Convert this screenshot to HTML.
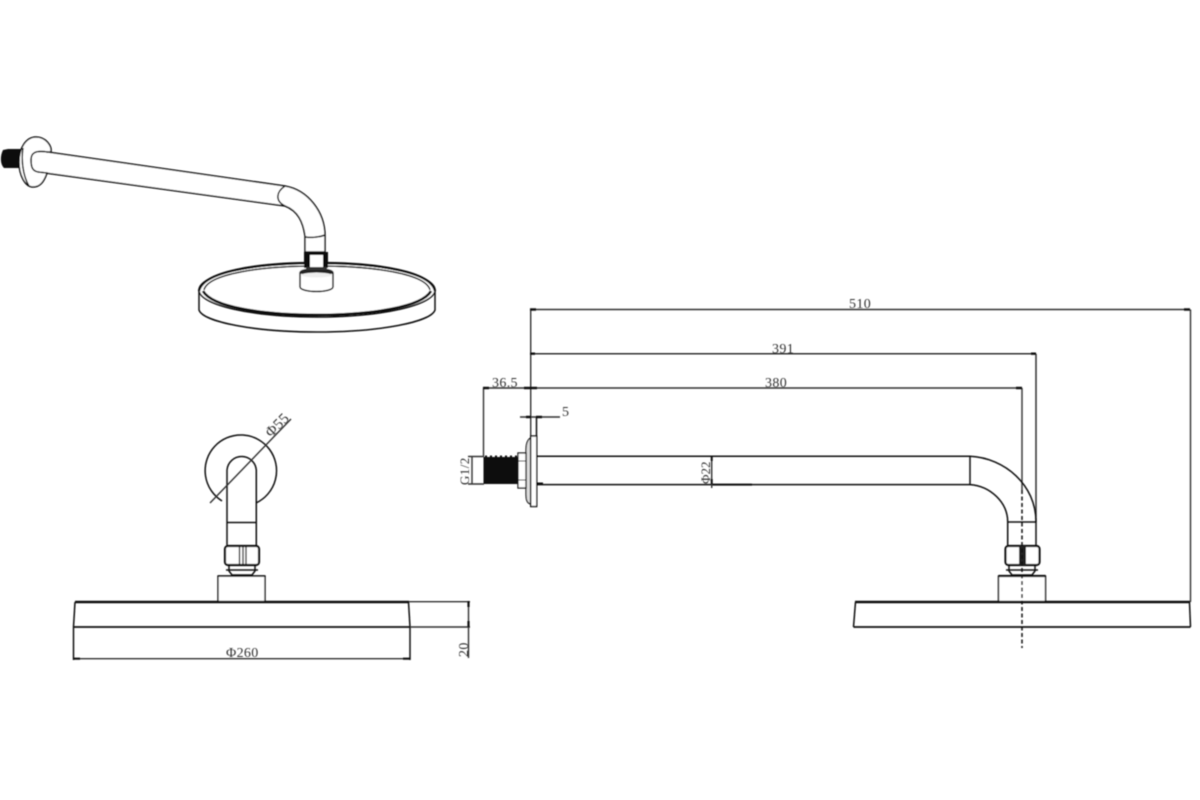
<!DOCTYPE html>
<html>
<head>
<meta charset="utf-8">
<style>
html,body{margin:0;padding:0;background:#fff;width:1200px;height:800px;overflow:hidden}
svg{display:block}
text{font-family:"Liberation Serif",serif;font-size:14px;fill:#333;letter-spacing:.35px}
.l{fill:none;stroke:#111;stroke-width:1.5}
.t{fill:none;stroke:#111;stroke-width:2.4}
.d{fill:none;stroke:#333;stroke-width:1.4}
.w{fill:#fff;stroke:#111;stroke-width:1.5}
</style>
</head>
<body>
<svg width="1200" height="800" viewBox="0 0 1200 800" xmlns="http://www.w3.org/2000/svg">
<defs><filter id="b" x="-5%" y="-5%" width="110%" height="110%"><feGaussianBlur stdDeviation="0.45"/></filter></defs>
<g filter="url(#b)">

<!-- Perspective view: head -->
<path class="l" d="M199 291 V310 C203 322 255 332 317 332 C380 332 431 322 435 310 V291"/>
<ellipse class="w" cx="317" cy="290" rx="118" ry="27"/>
<path fill="none" stroke="#111" stroke-width="1.5" d="M204 290 C208 274 260 266 317 266 C375 266 426 274 430 290"/>
<path fill="none" stroke="#111" stroke-width="2.8" d="M203 291 C212 307 262 315 317 315 C372 315 422 307 431 291"/>
<path class="t" d="M199 291 C203 272 255 263 317 263 C380 263 431 272 435 291"/>
<!-- Perspective: collar, nut -->
<path class="w" d="M300 273 V287 C301 293 332 293 333 287 V273 Z"/>
<ellipse cx="316.500" cy="272" rx="17" ry="4" fill="#222"/>
<ellipse cx="316.500" cy="275" rx="15" ry="2.500" fill="#eee"/>
<rect x="304" y="252" width="24" height="16" fill="#111"/>
<rect x="310" y="255" width="13" height="12" fill="#fff"/>
<rect x="306" y="267" width="21" height="3" fill="#333"/>
<!-- Perspective: arm -->
<path class="w" d="M47.500 152 L285 186 C308 190 325 212 325 236 L325 252 H305 L305 236 C303 222 298 211 285 206 L38 172 C33 171 31 168 31 160 C31 153 35 150 47.500 152Z" fill="none"/>
<path class="l" d="M285 186 C276 192 275 201 285 206"/>
<path class="l" d="M305.500 237 C311 238 320 237 325 235"/>

<!-- Perspective: flange + thread -->
<path d="M3 150 C0 156 0 164 4 168 L20 168 L21 149 L8 149Z" fill="#111"/>
<path d="M36 137 C46 137 52 146 51 152 L47.500 152 C35 150 31 153 31 160 C31 168 33 171 38 172 L47 173 C44 182 40 187 33 187 C25 187 19 175 19 162 C19 148 26 137 36 137Z" fill="#fff" stroke="#111" stroke-width="1.500"/>
<path class="l" d="M23 148 C21 160 23 176 29 186"/>

<!-- Front view -->
<path class="l" d="M222 501 A35.700 35.700 0 1 1 256 503"/>
<path class="l" d="M227 545 V470 A14.700 14.700 0 0 1 256.300 470 V545"/>
<path class="l" d="M227 522.500 H256"/>
<path class="d" d="M210 503 L291 419"/>
<rect x="225" y="546" width="34" height="19" rx="3" fill="#fff" stroke="#111" stroke-width="2.200"/>
<path stroke="#111" stroke-width="1.300" d="M239.500 546V565M243 546V565M246 546V565"/>
<path class="l" d="M229 566 L229 571 L232 575 H252 L255 571 V566"/>
<path class="l" d="M226 570 H258"/>
<rect x="218" y="576" width="47" height="26" fill="#fff" stroke="#111" stroke-width="1.400"/>
<path class="l" d="M218 576 H265" stroke-width="2.200"/>
<path class="l" d="M75 602 L73.500 627 M408.500 602 L410 627 V660"/>
<path class="l" d="M73.500 627 V660"/>
<path class="t" d="M75 602 H409"/>
<path class="t" d="M73 627 H410" style="stroke-width:1.700"/>
<path class="d" d="M73 658.700 H410"/>
<path stroke="#111" stroke-width="2.200" d="M73 658.700h7M403 658.700h7"/>
<path class="d" d="M409 601.700 H470 M410 627 H470 M468.500 601 V658"/>
<path stroke="#111" stroke-width="2.200" d="M468.500 601v6M468.500 621v6"/>
<text x="226" y="657">Φ260</text>
<text transform="translate(271 438) rotate(-45)" x="0" y="0" style="font-size:15px">Φ55</text>
<text transform="translate(468 657) rotate(-90)">20</text>

<!-- Side view: dims -->
<path class="d" d="M530.700 309.500 V436 M530 309.500 H1190 M1190.500 309.500 V602"/>
<path class="d" d="M530 353.700 H1036 M1036 353.700 V522" style="stroke-width:1.500"/>
<path class="d" d="M484 388 H1022 M1022 388 V490"/>
<path class="d" d="M483.500 388 V457"/>
<path class="d" d="M520 417 H560"/>
<path stroke="#111" stroke-width="2.400" d="M530 309.500h6M1184 309.500h6M530 353.700h5M1031 353.700h5M530 388h7M1016 388h6M483 388h6M524 388h6M526 417h5M536 417h6"/>

<!-- Side view: body -->
<path class="l" d="M536.500 456.300 H970 C1005 458 1036 485 1036 522 V545"/>
<path class="l" d="M536.500 484.600 H970 C990 486 1007.700 502 1007.700 522 V545"/>
<path class="l" d="M970 456.300 V484.600 M1007.700 522 H1036"/>
<path stroke="#111" stroke-width="2" d="M711 484.600 H752 M537 483.500 H543"/>
<rect x="530.700" y="436" width="6" height="70.500" fill="#fff" stroke="#111" stroke-width="1.400"/>
<path class="l" d="M536.500 417 V436"/>
<path d="M530.500 438 C527 440 526 444 526 450 V494 C526 500 527 503 530.500 504Z" fill="#ddd" stroke="#111" stroke-width="1.200"/>
<rect x="518" y="453" width="8" height="35" fill="#fff" stroke="#111" stroke-width="1.300"/>
<path stroke="#111" stroke-width="1" d="M518 461H526M518 480H526"/>
<rect x="483.500" y="457" width="35" height="27" fill="#0d0d0d"/>
<path stroke="#111" stroke-width="2" stroke-dasharray="2 3" d="M485 456.500H518"/>

<!-- G1/2 and dia dims -->
<path class="d" d="M472 456.500 V484 M468 456.500 H484 M468 484 H484"/>
<text transform="translate(469 485) rotate(-90)" style="font-size:13px;letter-spacing:.4px">G1/2</text>
<path class="d" d="M711.700 456 V488"/>
<path stroke="#111" stroke-width="2" d="M711.700 456v5M711.700 479v5"/>
<text transform="translate(710 484) rotate(-90)" style="font-size:13px;letter-spacing:0">Φ22</text>

<!-- Side view: head -->
<rect x="1005.500" y="546" width="34" height="19" rx="3" fill="#fff" stroke="#111" stroke-width="2.200"/>
<path fill="#222" d="M1019 546H1026V565H1019Z"/>
<path class="l" d="M1009 566 L1009 571 L1012 575 H1032 L1035 571 V566"/>
<path class="l" d="M1006 570 H1038"/>
<rect x="998.500" y="576" width="47" height="26" fill="#fff" stroke="#111" stroke-width="1.400"/>
<path class="l" d="M998.500 576 H1045.500" style="stroke-width:2.200"/>
<path class="l" d="M855.500 602 L853.500 627 M1189.500 602 L1190.500 627"/>
<path class="t" d="M855 602 H1190"/>
<path class="t" d="M853.500 627 H1190.500" style="stroke-width:1.800"/>
<path fill="none" stroke="#111" stroke-width="1.500" stroke-dasharray="4 2.500" d="M1022 490 V648"/>

<!-- Dim text -->
<text x="849" y="308">510</text>
<text x="772" y="353">391</text>
<text x="765" y="387">380</text>
<text x="492" y="387">36.5</text>
<text x="562" y="416">5</text>
</g>
</svg>
</body>
</html>
